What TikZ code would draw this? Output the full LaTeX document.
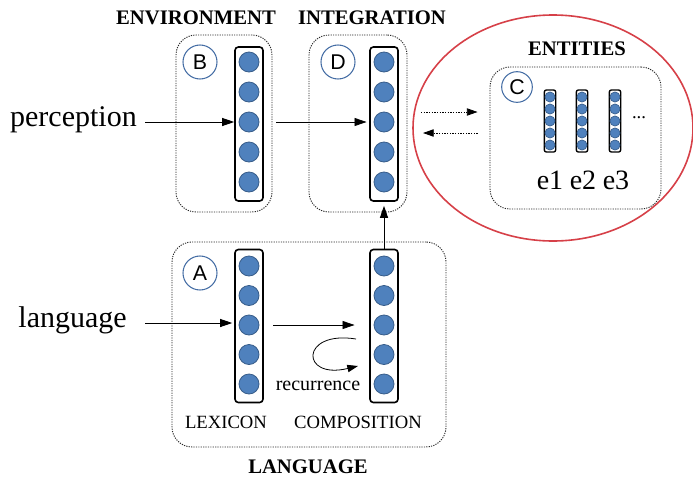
\documentclass[tikz,border=0pt]{standalone}
\usepackage{fontspec}
\setmainfont{Liberation Serif}
\newfontfamily\lsans{Liberation Sans}
\usetikzlibrary{arrows.meta,shapes.geometric}
\definecolor{unitblue}{RGB}{79,129,189}
\definecolor{unitedge}{RGB}{56,93,138}
\definecolor{lblblue}{RGB}{70,110,165}
\definecolor{ellred}{RGB}{214,64,72}
\tikzset{
  px/.style={x=0.75pt,y=-0.75pt},
  modbox/.style={draw=black!85,line width=0.7pt,dash pattern=on 0.9pt off 0.9pt,rounded corners=15pt,inner sep=0pt},
  colbox/.style={draw=black,line width=1.2pt,rounded corners=2.5pt,inner sep=0pt,minimum width=21pt},
  unit/.style={circle,fill=unitblue,draw=unitedge,line width=0.6pt,minimum size=15pt,inner sep=0pt},
  sunit/.style={circle,fill=unitblue,draw=unitedge,line width=0.5pt,minimum size=7.6pt,inner sep=0pt},
  scol/.style={draw=black,line width=1pt,rounded corners=1.5pt,inner sep=0pt,minimum width=8.5pt,minimum height=46.5pt},
  lbl/.style={circle,draw=lblblue,line width=0.8pt,minimum size=25.5pt,inner sep=0pt,font=\lsans\fontsize{16}{17}\selectfont},
  title/.style={font=\bfseries\fontsize{15.5}{17}\selectfont},
  arr/.style={-{Triangle[length=9pt,width=6pt]},line width=0.6pt},
  darr/.style={-{Triangle[length=8pt,width=5.5pt]},line width=0.6pt,dash pattern=on 1pt off 1pt},
}
\begin{document}
\begin{tikzpicture}[px]
\useasboundingbox (0,0) rectangle (693,479);
% titles
\node[title] (tEnv) at (196,18) {ENVIRONMENT};
\node[title] (tInt) at (372,18) {INTEGRATION};
\node[title] (tEnt) at (577,49) {ENTITIES};
\node[title] (tLang) at (308,467) {LANGUAGE};
% red ellipse
\node[ellipse,draw=ellred,line width=1.2pt,minimum width=210pt,minimum height=169.5pt,inner sep=0pt] (ell) at (553,128) {};
% module boxes
\node[modbox,minimum width=72pt,minimum height=132.75pt] (boxB) at (224,123.5) {};
\node[modbox,minimum width=73.5pt,minimum height=132.75pt] (boxD) at (358,123.5) {};
\node[modbox,minimum width=128.25pt,minimum height=106.5pt] (boxC) at (575.5,138) {};
\node[modbox,minimum width=205.5pt,minimum height=153.75pt] (boxA) at (309,344.5) {};
% labels
\node[lbl] (lB) at (200,62) {B};
\node[lbl] (lD) at (338,62) {D};
\node[lbl] (lA) at (200,273) {A};
\node[lbl,minimum size=23pt] (lC) at (517,87) {C};
% columns
\node[colbox,minimum height=115.5pt] (colB) at (249,124) {};
\node[colbox,minimum height=115.5pt] (colD) at (384,124) {};
\node[colbox,minimum height=114.75pt] (colA) at (249,326) {};
\node[colbox,minimum height=114.75pt] (colE) at (384,326) {};
\foreach \k in {0,...,4}{
  \node[unit] (b\k) at (249,{62+30*\k}) {};
  \node[unit] (d\k) at (384,{62+30*\k}) {};
  \node[unit] (a\k) at (249,{266+29.5*\k}) {};
  \node[unit] (c\k) at (384,{266+29.5*\k}) {};
}
% entity columns
\foreach \name/\x in {e1/550,e2/582,e3/615}{
  \node[scol] (col\name) at (\x,121) {};
  \foreach \k in {0,...,4}{
    \node[sunit] (\name u\k) at (\x,{97+12*\k}) {};
  }
}
\node[font=\fontsize{14}{15}\selectfont] (dots) at (639,118) {...};
\node[font=\fontsize{21}{22}\selectfont] (le1) at (550,180) {e1};
\node[font=\fontsize{21}{22}\selectfont] (le2) at (583,180) {e2};
\node[font=\fontsize{21}{22}\selectfont] (le3) at (616,180) {e3};
% inputs
\node[font=\fontsize{22.5}{24}\selectfont,anchor=east,inner sep=0pt] (perc) at (137,120) {perception};
\node[font=\fontsize{22.5}{24}\selectfont,anchor=east,inner sep=0pt] (lang) at (127,320) {language};
% bottom labels
\node[font=\fontsize{14}{15}\selectfont] (lex) at (226,422) {LEXICON};
\node[font=\fontsize{14}{15}\selectfont] (comp) at (358,422) {COMPOSITION};
\node[font=\fontsize{15}{16}\selectfont] (rec) at (318,386) {recurrence};
% arrows
\draw[arr] (145,122) coordinate (pStart) -- (pStart -| colB.west);
\draw[arr,shorten <=3pt,shorten >=2pt] (boxB.east |- b2) -- (colD.west |- b2);
\draw[arr,shorten >=1.5pt] (145,323) coordinate (lStart) -- (lStart -| colA.west);
\draw[arr,shorten <=7pt,shorten >=11pt] (colA.east |- a2) -- (colE.west |- a2);
\draw[arr,shorten >=3pt] (colE.north) -- (colD.south);
\coordinate (u1) at (421,112);
\coordinate (v2) at (423,133);
\draw[darr,shorten >=9pt] (u1) -- (u1 -| boxC.west);
\draw[darr,shorten <=9pt] (v2 -| boxC.west) -- (v2);
% recurrence loop
\coordinate (r1) at (356,339);
\coordinate (r2) at (358,366);
\draw[-{Triangle[length=8pt,width=5.5pt]},line width=0.6pt] (r1) .. controls (300,330) and (300,380) .. (r2);
\end{tikzpicture}
\end{document}
